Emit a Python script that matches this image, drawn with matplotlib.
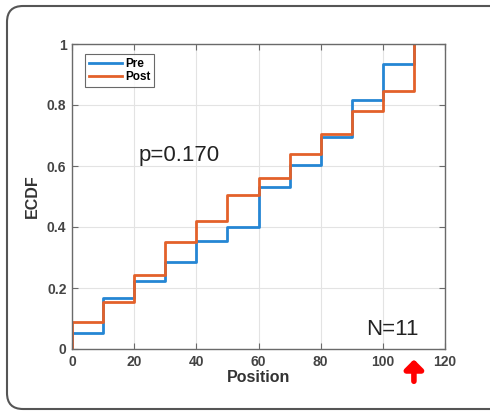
import matplotlib.pyplot as plt
from matplotlib.path import Path
from matplotlib.patches import PathPatch

plt.rcParams['font.family'] = ['Liberation Sans', 'DejaVu Sans']

# positions where the ECDF steps
positions = [0, 10, 20, 30, 40, 50, 60, 70, 80, 90, 100, 110]
pre_cdf = [0.051, 0.166, 0.223, 0.286, 0.354, 0.399, 0.532, 0.603, 0.696, 0.816, 0.934, 1.0]
post_cdf = [0.087, 0.155, 0.242, 0.352, 0.421, 0.505, 0.560, 0.639, 0.705, 0.780, 0.846, 1.0]
xticks = [0, 20, 40, 60, 80, 100, 120]
yticks = [0, 0.2, 0.4, 0.6, 0.8, 1]
ytick_labels = ['0', '0.2', '0.4', '0.6', '0.8', '1']
arrow_pos = 110

fig = plt.figure(figsize=(4.9, 4.12), dpi=100)

# rounded frame around the panel, open on the right (runs off the image)
W, H = 490.0, 412.0
l, b, t, r, rad = 7, 3, 406, 500, 16
verts = [(r, t), (l + rad, t), (l, t), (l, t - rad), (l, b + rad), (l, b), (l + rad, b), (r, b)]
codes = [Path.MOVETO, Path.LINETO, Path.CURVE3, Path.CURVE3, Path.LINETO,
         Path.CURVE3, Path.CURVE3, Path.LINETO]
verts = [(x / W, y / H) for x, y in verts]
frame = PathPatch(Path(verts, codes), transform=fig.transFigure, fill=False,
                  edgecolor='#555555', lw=1.5, clip_on=False)
fig.patches.append(frame)

ax = fig.add_axes([72 / 490, 63 / 412, 373 / 490, 305 / 412])

ax.step([positions[0]] + positions, [0] + pre_cdf, where='post',
        color='#2586d4', lw=2, label='Pre')
ax.step([positions[0]] + positions, [0] + post_cdf, where='post',
        color='#e3612a', lw=2, label='Post')

ax.set_xlim(0, 120)
ax.set_ylim(0, 1)
ax.set_xticks(xticks)
ax.set_yticks(yticks)
ax.set_yticklabels(ytick_labels)
ax.grid(True, color='#e3e3e3', lw=0.8)
ax.set_axisbelow(True)
ax.tick_params(direction='in', top=True, right=True, length=4, width=0.8,
               colors='#6a6a6a', labelcolor='#444444', labelsize=10, pad=4)
for lab in ax.get_xticklabels() + ax.get_yticklabels():
    lab.set_fontweight('bold')
for s in ax.spines.values():
    s.set_color('#6a6a6a')
    s.set_linewidth(1.0)

ax.set_xlabel('Position', fontsize=11.5, fontweight='bold', color='#333333', labelpad=1)
ax.set_ylabel('ECDF', fontsize=11.5, fontweight='bold', color='#333333', labelpad=5)

leg = ax.legend(loc='upper left', prop={'weight': 'bold', 'size': 8.5},
                handlelength=2.8, handletextpad=0.3, borderpad=0.3,
                labelspacing=0.1, fancybox=False, edgecolor='#444444',
                bbox_to_anchor=(0.02, 0.985))
leg.get_frame().set_linewidth(0.8)

ax.text(21.5, 0.615, 'p=0.170', fontsize=16, color='#222222')
ax.text(94.5, 0.045, 'N=11', fontsize=16, color='#222222')

ax.annotate('', xy=(arrow_pos, -0.025), xytext=(arrow_pos, -0.115),
            xycoords=ax.get_xaxis_transform(),
            arrowprops=dict(arrowstyle='-|>,head_width=0.55,head_length=0.55',
                            color='red', lw=4),
            annotation_clip=False)

fig.savefig('out.png', dpi=100)
